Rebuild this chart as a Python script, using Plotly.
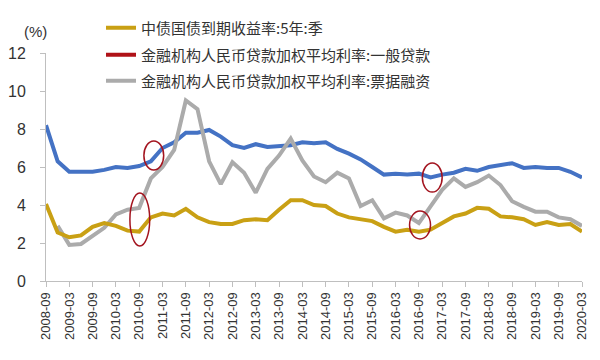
import plotly.graph_objects as go

quarters = [
    "2008-09", "2008-12", "2009-03", "2009-06", "2009-09", "2009-12",
    "2010-03", "2010-06", "2010-09", "2010-12", "2011-03", "2011-06",
    "2011-09", "2011-12", "2012-03", "2012-06", "2012-09", "2012-12",
    "2013-03", "2013-06", "2013-09", "2013-12", "2014-03", "2014-06",
    "2014-09", "2014-12", "2015-03", "2015-06", "2015-09", "2015-12",
    "2016-03", "2016-06", "2016-09", "2016-12", "2017-03", "2017-06",
    "2017-09", "2017-12", "2018-03", "2018-06", "2018-09", "2018-12",
    "2019-03", "2019-06", "2019-09", "2019-12", "2020-03",
]
tick_labels = quarters[::2]

bond_5y = [
    4.05, 2.55, 2.3, 2.4, 2.85, 3.05, 2.9, 2.65, 2.6, 3.35, 3.55, 3.45,
    3.8, 3.35, 3.1, 3.0, 3.0, 3.2, 3.25, 3.2, 3.75, 4.25, 4.25, 4.0,
    3.95, 3.55, 3.35, 3.25, 3.15, 2.85, 2.6, 2.7, 2.6, 2.7, 3.05, 3.4,
    3.55, 3.85, 3.8, 3.4, 3.35, 3.25, 2.95, 3.1, 2.95, 3.0, 2.6,
]
general_loan = [
    8.2, 6.3, 5.75, 5.75, 5.75, 5.85, 6.0, 5.95, 6.05, 6.3, 7.0, 7.3,
    7.8, 7.8, 7.95, 7.6, 7.15, 7.0, 7.2, 7.05, 7.1, 7.15, 7.3, 7.25,
    7.3, 6.95, 6.7, 6.4, 6.0, 5.6, 5.65, 5.6, 5.65, 5.45, 5.6, 5.7,
    5.9, 5.8, 6.0, 6.1, 6.2, 5.95, 6.0, 5.95, 5.95, 5.75, 5.45,
]
bill_financing = [
    None, 2.9, 1.9, 1.95, 2.4, 2.8, 3.5, 3.75, 3.85, 5.4, 6.0, 6.9,
    9.5, 9.05, 6.3, 5.1, 6.25, 5.7, 4.65, 5.9, 6.6, 7.5, 6.35, 5.5,
    5.2, 5.7, 5.4, 3.95, 4.25, 3.3, 3.6, 3.45, 3.05, 3.9, 4.8, 5.4,
    4.95, 5.2, 5.55, 5.05, 4.2, 3.9, 3.65, 3.65, 3.35, 3.25, 2.9,
]

names = [
    "中债国债到期收益率:5年:季",
    "金融机构人民币贷款加权平均利率:一般贷款",
    "金融机构人民币贷款加权平均利率:票据融资",
]

GOLD = "#C9A014"
BLUE = "#4472C4"
GRAY = "#ABABAB"
RED = "#B01218"
ELLIPSE = "#A3141F"

W, H = 592, 352  # page body adds an 8px offset

fig = go.Figure()
fig.add_trace(go.Scatter(x=quarters, y=general_loan, mode="lines",
                         line=dict(color=BLUE, width=4), showlegend=False))
fig.add_trace(go.Scatter(x=quarters, y=bill_financing, mode="lines",
                         line=dict(color=GRAY, width=4), showlegend=False))
fig.add_trace(go.Scatter(x=quarters, y=bond_5y, mode="lines",
                         line=dict(color=GOLD, width=4), showlegend=False))

# legend entries
fig.add_trace(go.Scatter(x=[None], y=[None], mode="lines", name=names[0],
                         line=dict(color=GOLD, width=4), legend="legend"))
fig.add_trace(go.Scatter(x=[None], y=[None], mode="lines", name=names[1],
                         line=dict(color=RED, width=4), legend="legend2"))
fig.add_trace(go.Scatter(x=[None], y=[None], mode="lines", name=names[2],
                         line=dict(color=GRAY, width=4), legend="legend3"))

legend_font = dict(family="Noto Sans CJK SC", size=15, color="#333333")
leg_common = dict(x=93 / W, xref="container", yref="container",
                  xanchor="left", yanchor="middle",
                  bgcolor="rgba(0,0,0,0)", font=legend_font, itemwidth=30)

ellipses = [
    (8.4, 10.1, 5.84, 7.37),
    (7.2, 8.9, 1.84, 4.63),
    (32.3, 34.0, 4.68, 6.21),
    (31.2, 33.0, 2.21, 3.68),
]
shapes = [
    dict(type="circle", xref="x", yref="y", x0=a, x1=b, y0=c, y1=d,
         line=dict(color=ELLIPSE, width=1.5))
    for a, b, c, d in ellipses
]

fig.update_layout(
    width=W, height=H,
    margin=dict(l=38, r=18, t=45, b=79, autoexpand=False),
    paper_bgcolor="white", plot_bgcolor="white",
    font=dict(family="Liberation Sans, Arial", color="#333333"),
    legend=dict(y=1 - 20 / H, **leg_common),
    legend2=dict(y=1 - 47 / H, **leg_common),
    legend3=dict(y=1 - 73 / H, **leg_common),
    shapes=shapes,
    annotations=[dict(text="(%)", xref="paper", yref="paper", x=-0.019, y=1.096,
                      xanchor="center", yanchor="middle", showarrow=False,
                      font=dict(size=15, color="#333333"))],
    xaxis=dict(
        type="category", categoryorder="array", categoryarray=quarters,
        range=[0, 46], tickmode="array", tickvals=tick_labels,
        ticktext=tick_labels, tickangle=-90,
        tickfont=dict(size=13, color="#333333"),
        showline=True, linecolor="#BFBFBF", linewidth=1,
        ticks="outside", ticklen=5, tickcolor="#BFBFBF",
        showgrid=False, zeroline=False, automargin=False,
    ),
    yaxis=dict(
        range=[0, 12], tickmode="array", tickvals=[0, 2, 4, 6, 8, 10, 12],
        tickfont=dict(size=16, color="#333333"),
        showline=True, linecolor="#BFBFBF", linewidth=1,
        ticks="outside", ticklen=5, tickcolor="#BFBFBF",
        ticklabelstandoff=11,
        showgrid=False, zeroline=False, automargin=False,
    ),
)

fig.write_html("out.html")
